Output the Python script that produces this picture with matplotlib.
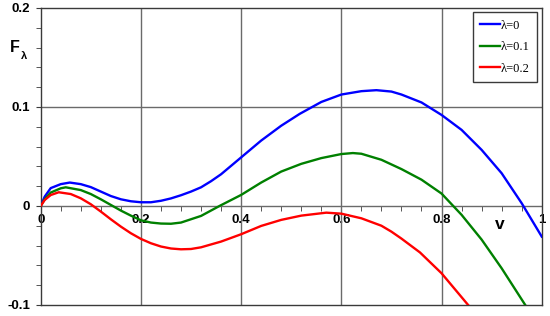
import numpy as np
import matplotlib
matplotlib.use('Agg')
import matplotlib.pyplot as plt
from matplotlib.ticker import MultipleLocator

# Values
x_blue = [0, 0.008, 0.02, 0.04, 0.058, 0.08, 0.10, 0.12, 0.14, 0.16, 0.18,
          0.20, 0.22, 0.24, 0.26, 0.28, 0.30, 0.32, 0.34, 0.36, 0.40, 0.44,
          0.48, 0.517, 0.56, 0.60, 0.64, 0.67, 0.70, 0.72, 0.76, 0.80, 0.84,
          0.88, 0.92, 0.96, 1.0]
y_blue = [0, 0.0094, 0.018, 0.022, 0.0236, 0.022, 0.019, 0.0145, 0.010, 0.0067,
          0.0047, 0.0037, 0.0037, 0.0052, 0.0076, 0.0108, 0.0145, 0.0188, 0.025,
          0.032, 0.049, 0.066, 0.081, 0.093, 0.105, 0.1125, 0.1159, 0.1169,
          0.1155, 0.1125, 0.1045, 0.0919, 0.0768, 0.0566, 0.033, 0.0027, -0.031]

x_green = [0, 0.008, 0.02, 0.04, 0.05, 0.08, 0.10, 0.12, 0.14, 0.16, 0.18,
           0.20, 0.22, 0.24, 0.26, 0.28, 0.32, 0.357, 0.40, 0.44, 0.48, 0.52,
           0.56, 0.60, 0.623, 0.64, 0.68, 0.72, 0.76, 0.80, 0.84, 0.88, 0.92,
           0.967]
y_green = [0, 0.0067, 0.0135, 0.0178, 0.0188, 0.016, 0.012, 0.0067, 0.001,
           -0.0047, -0.0098, -0.0145, -0.0168, -0.0178, -0.018, -0.0168, -0.0101,
           0.0, 0.0111, 0.0236, 0.0347, 0.0425, 0.0483, 0.0524, 0.0534, 0.0527,
           0.0466, 0.0372, 0.0265, 0.0125, -0.009, -0.034, -0.063, -0.1]

x_red = [0, 0.008, 0.02, 0.036, 0.06, 0.08, 0.10, 0.12, 0.14, 0.16, 0.18, 0.20,
         0.22, 0.24, 0.26, 0.28, 0.30, 0.32, 0.36, 0.40, 0.44, 0.48, 0.52, 0.57,
         0.60, 0.64, 0.68, 0.70, 0.72, 0.757, 0.80, 0.853]
y_red = [0, 0.006, 0.011, 0.0138, 0.012, 0.0077, 0.0017, -0.0057, -0.0135,
         -0.0209, -0.0276, -0.0333, -0.0377, -0.041, -0.043, -0.0438, -0.0435,
         -0.0418, -0.036, -0.0286, -0.0202, -0.0141, -0.0098, -0.0068, -0.0078,
         -0.0125, -0.020, -0.026, -0.033, -0.047, -0.068, -0.1]

labels = [u'\u03bb=0', u'\u03bb=0.1', u'\u03bb=0.2']
colors = ['#0000ff', '#008000', '#ff0000']

xticks = [0, 0.2, 0.4, 0.6, 0.8, 1]
xticklabels = ['0', '0.2', '0.4', '0.6', '0.8', '1']
yticks = [-0.1, 0, 0.1, 0.2]
yticklabels = ['-0.1', '0', '0.1', '0.2']

plt.rcParams['font.family'] = ['Liberation Sans', 'DejaVu Sans']

fig = plt.figure(figsize=(5.5, 3.16), dpi=100)
ax = fig.add_axes([0.074, 0.035, 0.911, 0.94])

grid_col = '#6a6a6a'
for xs, ys, lab, c in zip([x_blue, x_green, x_red], [y_blue, y_green, y_red],
                          labels, colors):
    ax.plot(xs, ys, color=c, lw=1.7, label=lab, zorder=3,
            solid_joinstyle='round')

ax.set_xlim(0, 1)
ax.set_ylim(-0.1, 0.2)

# grid and zero line
for gx in [0.2, 0.4, 0.6, 0.8]:
    ax.axvline(gx, color=grid_col, lw=1.0, zorder=1)
ax.axhline(0.1, color=grid_col, lw=1.0, zorder=1)
ax.axhline(0, color=grid_col, lw=1.0, zorder=1)
for s in ax.spines.values():
    s.set_color('#3a3a3a')
    s.set_linewidth(1.0)

# y axis ticks on the left spine
ax.set_yticks(yticks)
ax.set_yticklabels(yticklabels, fontweight='bold', fontsize=9.5)
ax.yaxis.set_minor_locator(MultipleLocator(0.02))
ax.tick_params(axis='y', which='both', direction='out', color='#3a3a3a',
               length=3.5, pad=4)

# x axis ticks on the zero line
ax.set_xticks([])
sec = ax.secondary_xaxis(0, transform=ax.transData)
sec.set_xticks(xticks)
sec.set_xticklabels(xticklabels, fontweight='bold', fontsize=9.5)
sec.xaxis.set_minor_locator(MultipleLocator(0.04))
sec.tick_params(axis='x', which='major', length=0, pad=5.5)
sec.tick_params(axis='x', which='minor', direction='out', length=3.5,
                color='#3a3a3a')
sec.spines['bottom'].set_visible(False)

# axis labels
ax.text(-0.0524, 0.1596, 'F', fontsize=11.5, fontweight='bold',
        ha='center', va='center', clip_on=False)
ax.text(-0.0324, 0.151, u'\u03bb', fontsize=8, fontweight='bold',
        ha='center', va='center', clip_on=False)
ax.text(0.916, -0.0192, 'v', fontsize=12.5, fontweight='bold',
        ha='center', va='center')

leg = ax.legend(loc='upper right', prop={'family': 'Liberation Serif', 'size': 9},
                handlelength=1.6, handletextpad=0.05, labelspacing=0.75,
                borderaxespad=0.35, fancybox=False, framealpha=1, borderpad=0.6)
leg.get_frame().set_edgecolor('#3a3a3a')
leg.get_frame().set_linewidth(1.0)

fig.savefig('out.png', dpi=100)
